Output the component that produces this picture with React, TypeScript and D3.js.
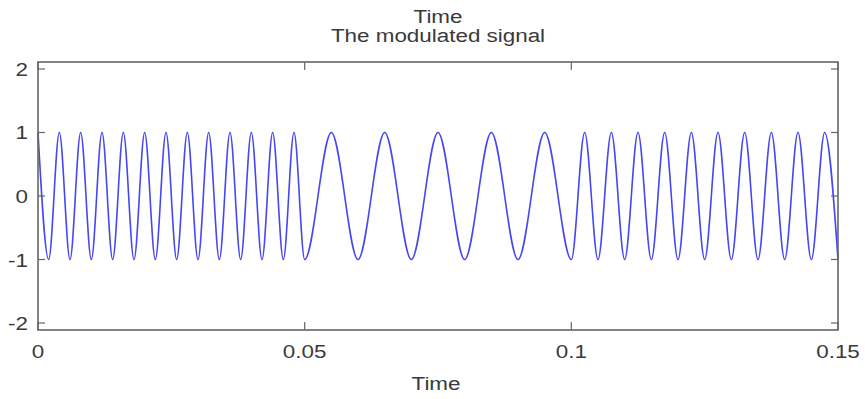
import { useMemo } from "react";
import { scaleLinear, line, curveMonotoneX } from "d3";

const WIDTH = 865;
const HEIGHT = 399;
const PLOT = { left: 38, right: 838, top: 62, bottom: 330 };

const titleLines = ["Time", "The modulated signal"];
const xLabel = "Time";

const xTicks = [0, 0.05, 0.1, 0.15];
const xTickLabels = ["0", "0.05", "0.1", "0.15"];
const yTicks = [-2, -1, 0, 1, 2];
const yTickLabels = ["-2", "-1", "0", "1", "2"];

// extrema of the modulated signal (seconds)
const peakTimes = [
  0, 0.004, 0.008, 0.012, 0.016, 0.02, 0.024, 0.028, 0.032, 0.036, 0.04, 0.044, 0.048,
  0.055, 0.065, 0.075, 0.085, 0.095,
  0.1025, 0.1075, 0.1125, 0.1175, 0.1225, 0.1275, 0.1325, 0.1375, 0.1425, 0.1475,
];
const troughTimes = [
  0.002, 0.006, 0.01, 0.014, 0.018, 0.022, 0.026, 0.03, 0.034, 0.038, 0.042, 0.046, 0.05,
  0.06, 0.07, 0.08, 0.09, 0.1,
  0.105, 0.11, 0.115, 0.12, 0.125, 0.13, 0.135, 0.14, 0.145, 0.15,
];
const peakValue = 1;
const troughValue = -1;

const FONT = "'Liberation Sans', Arial, sans-serif";
const FONT_SIZE = 19;
const STRETCH = 1.18;
const AXIS = "#666";
const TEXT = "#3a3a3a";

function Label({ x, y, anchor, children }: { x: number; y: number; anchor: string; children: string }) {
  return (
    <text
      transform={`translate(${x},${y}) scale(${STRETCH},1)`}
      textAnchor={anchor}
      fontFamily={FONT}
      fontSize={FONT_SIZE}
      fill={TEXT}
    >
      {children}
    </text>
  );
}

export default function App() {
  const x = useMemo(() => scaleLinear().domain([0, 0.15]).range([PLOT.left, PLOT.right]), []);
  const y = useMemo(() => scaleLinear().domain([-2.11, 2.11]).range([PLOT.bottom, PLOT.top]), []);

  const points = useMemo(
    () =>
      [
        ...peakTimes.map((t) => ({ t, v: peakValue })),
        ...troughTimes.map((t) => ({ t, v: troughValue })),
      ].sort((a, b) => a.t - b.t),
    []
  );

  const path = useMemo(
    () =>
      line<{ t: number; v: number }>()
        .x((d) => x(d.t))
        .y((d) => y(d.v))
        .curve(curveMonotoneX)(points),
    [points, x, y]
  );

  const midX = (PLOT.left + PLOT.right) / 2 + 2;

  return (
    <svg
      width={WIDTH}
      height={HEIGHT}
      viewBox={`0 0 ${WIDTH} ${HEIGHT}`}
      style={{ position: "absolute", left: 0, top: 0, background: "#fff" }}
    >
      <rect width={WIDTH} height={HEIGHT} fill="#fff" />

      <path d={path ?? ""} fill="none" stroke="#4646f2" strokeWidth={1.6} strokeLinejoin="round" />

      {/* box */}
      <rect
        x={PLOT.left}
        y={PLOT.top}
        width={PLOT.right - PLOT.left}
        height={PLOT.bottom - PLOT.top}
        fill="none"
        stroke={AXIS}
        strokeWidth={1.6}
      />

      {/* x ticks, bottom and top */}
      {xTicks.map((t, i) => (
        <g key={`x${i}`}>
          <line x1={x(t)} x2={x(t)} y1={PLOT.bottom} y2={PLOT.bottom - 8} stroke={AXIS} strokeWidth={1.2} />
          <line x1={x(t)} x2={x(t)} y1={PLOT.top} y2={PLOT.top + 8} stroke={AXIS} strokeWidth={1.2} />
          <Label x={x(t)} y={358} anchor="middle">
            {xTickLabels[i]}
          </Label>
        </g>
      ))}

      {/* y ticks, left and right */}
      {yTicks.map((v, i) => (
        <g key={`y${i}`}>
          <line x1={PLOT.left} x2={PLOT.left + 7} y1={y(v)} y2={y(v)} stroke={AXIS} strokeWidth={1.2} />
          <line x1={PLOT.right} x2={PLOT.right - 7} y1={y(v)} y2={y(v)} stroke={AXIS} strokeWidth={1.2} />
          <Label x={28} y={y(v) + 7} anchor="end">
            {yTickLabels[i]}
          </Label>
        </g>
      ))}

      <Label x={midX - 4} y={390} anchor="middle">
        {xLabel}
      </Label>

      {titleLines.map((s, i) => (
        <Label key={s} x={midX - 2} y={23 + i * 19} anchor="middle">
          {s}
        </Label>
      ))}
    </svg>
  );
}
